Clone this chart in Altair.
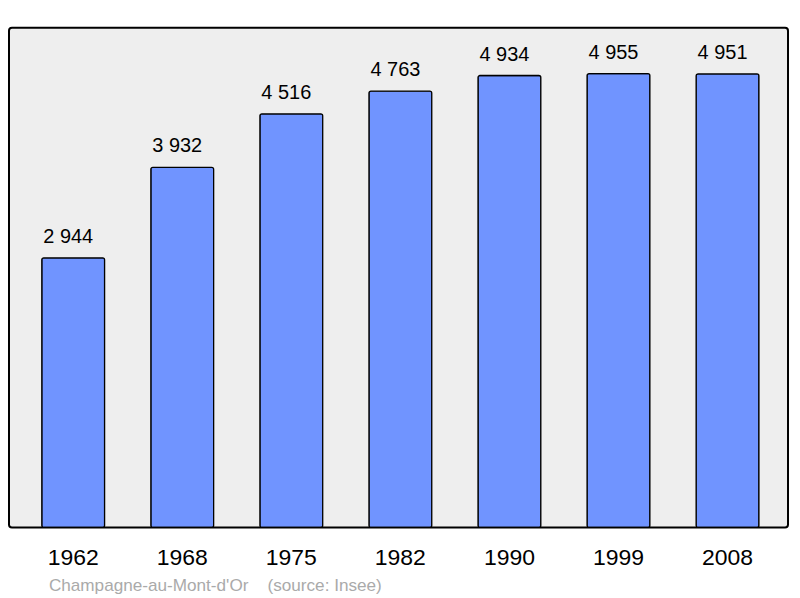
import altair as alt
import pandas as pd

years = ["1962", "1968", "1975", "1982", "1990", "1999", "2008"]
population = [2944, 3932, 4516, 4763, 4934, 4955, 4951]
labels = ["2 944", "3 932", "4 516", "4 763", "4 934", "4 955", "4 951"]

df = pd.DataFrame({"year": years, "pop": population, "label": labels})

FONT = "Liberation Sans"

x = alt.X(
    "year:N",
    sort=years,
    scale=alt.Scale(paddingInner=0.424, paddingOuter=0.2836, align=0.53),
    axis=alt.Axis(
        title=None,
        labelAngle=0,
        ticks=False,
        tickSize=0,
        domain=False,
        labelFont=FONT,
        labelFontSize=23,
        labelColor="#000000",
        labelBaseline="alphabetic",
        labelPadding=37,
    ),
)
y = alt.Y(
    "pop:Q",
    scale=alt.Scale(domain=[0, 5456], nice=False, zero=True),
    axis=None,
)

bars = alt.Chart(df).mark_bar(
    color="#7094ff",
    stroke="#000000",
    strokeWidth=1.3,
    cornerRadius=2,
).encode(x=x, y=y)

text = alt.Chart(df).mark_text(
    font=FONT,
    fontSize=20,
    color="#000000",
    baseline="alphabetic",
    dy=-15,
    dx=-5,
).encode(x=x, y=y, text="label:N")

chart = (
    alt.layer(bars, text)
    .properties(
        width=781,
        height=501,
        autosize=alt.AutoSizeParams(type="none"),
        padding={"left": 1, "top": 19, "right": 4, "bottom": 70},
        title=alt.TitleParams(
            text="Champagne-au-Mont-d'Or\u00a0\u00a0\u00a0\u00a0(source: Insee)",
            orient="bottom",
            anchor="start",
            frame="group",
            font=FONT,
            fontSize=17.2,
            fontWeight="normal",
            color="#aaaaaa",
            baseline="alphabetic",
            dx=40,
            offset=22,
        ),
    )
    .configure(background="#ffffff")
    .configure_view(
        fill="#eeeeee",
        stroke="#000000",
        strokeWidth=2,
        cornerRadius=3,
    )
)

chart.save("out.html", embed_options={"renderer": "svg", "actions": False})
